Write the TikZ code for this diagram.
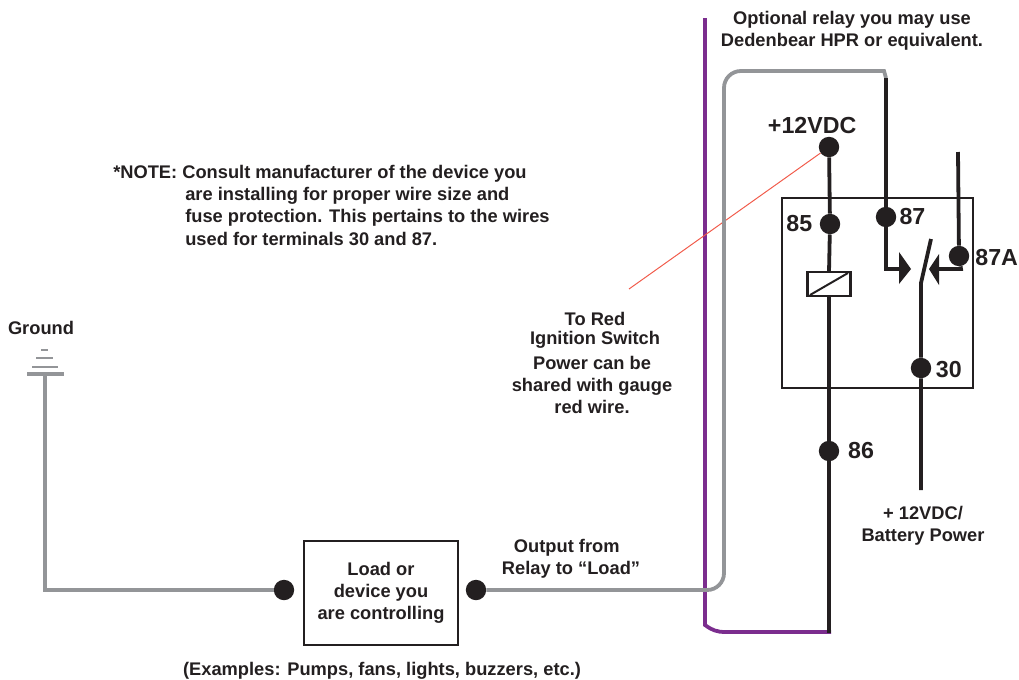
\documentclass[tikz,border=0pt]{standalone}
\usepackage{fontspec}
\setmainfont{Liberation Sans}
\usetikzlibrary{positioning}
\tikzset{>=latex}
\definecolor{wiregray}{HTML}{939598}
\definecolor{wirepurple}{HTML}{7B2D8E}
\definecolor{wireblack}{HTML}{231F20}
\definecolor{wirered}{HTML}{F15A4A}
\tikzset{
    dot/.style={circle, fill=wireblack, inner sep=0pt, minimum size=14.5pt},
    label/.style={font=\fontsize{13}{15.8}\selectfont\bfseries, text=wireblack, align=center, inner sep=0pt},
    pin/.style={font=\fontsize{16.5}{18}\selectfont\bfseries, text=wireblack, inner sep=0pt},
    blackwire/.style={draw=wireblack, line width=2.7pt},
    graywire/.style={draw=wiregray, line width=2.7pt},
}
\begin{document}
\begin{tikzpicture}[x=.025cm, y=-.025cm]
    \useasboundingbox(0, 0)rectangle(1019, 679);
    \draw[wirepurple, line width=2.7pt](705, 18)--(705, 625)..controls(712, 630)and(716, 632)..(726, 632)--(831, 632);
    \node[dot](vdc)at(829, 147) {};
    \node[dot](p85)at(830, 224) {};
    \node[dot](p87)at(886, 217) {};
    \node[dot](p87a)at(959, 256) {};
    \node[dot](p30)at(921, 368) {};
    \node[dot](p86)at(829, 451) {};
    \node[dot](loadl)at(284, 590) {};
    \node[dot](loadr)at(476, 590) {};
    \coordinate(bend)at(886, 78);
    \coordinate(ground)at(45, 374);
    \coordinate(coiltop)at(829, 272);
    \coordinate(coilbot)at(829, 296);
    \coordinate(corner)at(829, 633);
    \coordinate(redend)at(629, 289);
    \coordinate(topa)at(958, 152);
    \coordinate(pivot)at(921, 283);
    \coordinate(blade)at(931, 239);
    \coordinate(battery)at(921, 490);
    \draw[wirered, line width=.7pt](vdc)--(redend);
    \draw[graywire, rounded corners=12pt](loadr)--(724, 590)--(724, 71)--(860, 71);
    \draw[graywire](860, 71)--(884, 71)--(bend);
    \draw[graywire](ground)--(45, 590)--(loadl);
    \draw[graywire](27, 374)--(64, 374);
    \draw[graywire, line width=1.6pt](32, 367)--(58, 367);
    \draw[graywire, line width=1.6pt](36, 358)--(53, 358);
    \draw[graywire, line width=1.6pt](41, 350)--(48, 350);
    \node[draw=wireblack, line width=1.6pt, minimum width=3.85cm, minimum height=2.6cm, label](load)at(381, 593) {\raisebox{5pt}{\begin{tabular}{@{}c@{}}Load or\\device you\\are controlling\end{tabular}}};
    \node[draw=wireblack, line width=1.4pt, minimum width=4.78cm, minimum height=4.75cm, inner sep=0pt](relay)at(877.5, 293) {};
    \draw[blackwire](vdc)--(p85)--(coiltop);
    \draw[blackwire](coilbot)--(p86)--(corner);
    \node[draw=wireblack, fill=white, line width=1.6pt, minimum width=1.07cm, minimum height=.6cm, inner sep=0pt](coil)at(829, 284) {};
    \draw[wireblack, line width=1.4pt](810, 295)--(848, 273);
    \draw[blackwire](bend)--(p87)--(886, 269)--(903, 269);
    \fill[wireblack](899, 252)--(911, 269)--(899, 284)--cycle;
    \draw[blackwire](topa)--(p87a)--(961, 269)--(935, 269);
    \fill[wireblack](929, 269)--(939, 254)--(939, 285)--cycle;
    \draw[blackwire, line join=round](blade)--(pivot)--(p30)--(battery);
    \node[pin, above=1.5pt of vdc, xshift=-12pt](vdclabel) {+12VDC};
    \node[pin, left=5pt of p85](l85) {85};
    \node[pin, right=2pt of p87](l87) {87};
    \node[pin, right=4pt of p87a, yshift=-1pt](l87a) {87A};
    \node[pin, right=3pt of p30, yshift=-1pt](l30) {30};
    \node[pin, right=6pt of p86](l86) {86};
    \node[label](optional)at(852, 31) {Optional relay you may use\\Dedenbear HPR or equivalent.};
    \node[label, align=left, anchor=north west](note)at(113, 165) {*NOTE: Consult manufacturer of the device you\\
        \hspace{1.8cm}are installing for proper wire size and\\
        \hspace{1.8cm}fuse protection. This pertains to the wires\\
        \hspace{1.8cm}used for terminals 30 and 87.};
    \node[label](groundlabel)at(41, 328) {Ground};
    \node[label](tored)at(595, 319) {To Red};
    \node[label](ignition)at(595, 340) {Ignition Switch};
    \node[label](power)at(592, 385) {Power can be\\shared with gauge\\red wire.};
    \node[label](output)at(571, 559) {Output from\hspace*{6pt}\\Relay to “Load”};
    \node[label](batterylabel)at(923, 526) {+ 12VDC/\\Battery Power};
    \node[label](examples)at(382, 670.5) {(Examples: Pumps, fans, lights, buzzers, etc.)};
\end{tikzpicture}
\end{document}
